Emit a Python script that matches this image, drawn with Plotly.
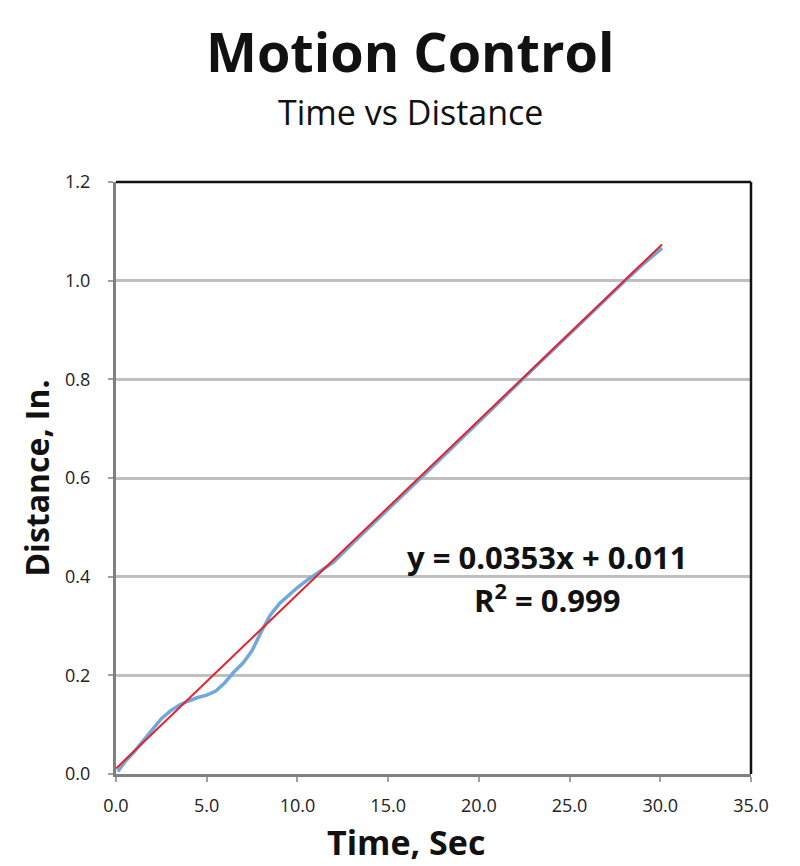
import plotly.graph_objects as go

# ---- data ----
time_sec = [0.1, 0.5, 1.0, 1.5, 2.0, 2.5, 3.0, 3.5, 4.0, 4.5, 5.0, 5.5, 6.0, 6.5,
            7.0, 7.5, 8.0, 8.5, 9.0, 9.5, 10.0, 10.5, 11.0, 11.5, 12.0, 13.0, 14.0,
            15.0, 16.0, 17.0, 18.0, 19.0, 20.0, 21.0, 22.0, 23.0, 24.0, 25.0, 26.0,
            27.0, 28.0, 29.0, 30.1]
distance_in = [0.005, 0.025, 0.045, 0.068, 0.090, 0.112, 0.128, 0.140, 0.148, 0.155,
               0.160, 0.168, 0.185, 0.207, 0.225, 0.250, 0.288, 0.322, 0.345, 0.362,
               0.378, 0.392, 0.405, 0.417, 0.430, 0.466, 0.502, 0.537, 0.572, 0.607,
               0.643, 0.679, 0.715, 0.750, 0.786, 0.821, 0.857, 0.892, 0.928, 0.963,
               0.998, 1.032, 1.066]
trend_slope = 0.0353
trend_intercept = 0.011
r_squared = 0.999

x_ticks = [0, 5, 10, 15, 20, 25, 30, 35]
y_ticks = [0.0, 0.2, 0.4, 0.6, 0.8, 1.0, 1.2]

trend_x = [0.0, max(time_sec)]
trend_y = [trend_slope * v + trend_intercept for v in trend_x]

FONT = "Open Sans"

fig = go.Figure()
fig.add_trace(go.Scatter(x=time_sec, y=distance_in, mode="lines",
                         line=dict(color="#6FA8DC", width=3.5), showlegend=False))
fig.add_trace(go.Scatter(x=trend_x, y=trend_y, mode="lines",
                         line=dict(color="#E8202A", width=2), showlegend=False))

fig.update_layout(
    width=800, height=866,
    margin=dict(l=108, r=57, t=174, b=100),
    paper_bgcolor="white", plot_bgcolor="white",
    font=dict(family=FONT, color="#222222"),
    xaxis=dict(range=[0, 35], tickvals=x_ticks,
               ticktext=[f"{v:.1f}" for v in x_ticks],
               showgrid=False, zeroline=False,
               showline=True, linecolor="#808080", linewidth=3,
               ticks="outside", ticklen=5, tickwidth=2, tickcolor="#A0A0A0",
               ticklabelstandoff=8,
               tickfont=dict(size=18, family=FONT, color="#222222")),
    yaxis=dict(range=[0, 1.2], tickvals=y_ticks,
               ticktext=[f"{v:.1f}" for v in y_ticks],
               showgrid=True, gridcolor="#BFBFBF", gridwidth=2.5,
               zeroline=False,
               showline=True, linecolor="#808080", linewidth=3,
               ticks="outside", ticklen=5, tickwidth=2, tickcolor="#A0A0A0",
               ticklabelstandoff=14,
               tickfont=dict(size=18, family=FONT, color="#222222"),
               title=dict(text="<b>Distance, In.</b>", standoff=6,
                          font=dict(size=32, family=FONT, color="#111111"))),
    shapes=[
        dict(type="line", xref="paper", yref="paper", x0=0, x1=1, y0=1, y1=1,
             line=dict(color="#111111", width=2.5)),
        dict(type="line", xref="paper", yref="paper", x0=1, x1=1, y0=0, y1=1,
             line=dict(color="#111111", width=2.5)),
    ],
    annotations=[
        dict(text="<b>Motion Control</b>", xref="paper", yref="paper",
             x=0.463, y=1.221, xanchor="center", yanchor="middle", showarrow=False,
             font=dict(size=54, family=FONT, color="#111111")),
        dict(text="Time vs Distance", xref="paper", yref="paper",
             x=0.463, y=1.118, xanchor="center", yanchor="middle", showarrow=False,
             font=dict(size=34, family=FONT, color="#111111")),
        dict(text="<b>Time, Sec</b>", xref="paper", yref="paper",
             x=0.456, y=-0.073, xanchor="center", yanchor="top", showarrow=False,
             font=dict(size=34, family=FONT, color="#111111")),
        dict(text=f"<b>y = {trend_slope}x + {trend_intercept}</b>", xref="x", yref="y",
             x=23.76, y=0.44, xanchor="center", yanchor="middle", showarrow=False,
             font=dict(size=31, family=FONT, color="#111111")),
        dict(text=f"<b>R<sup>2</sup> = {r_squared}</b>", xref="x", yref="y",
             x=23.76, y=0.355, xanchor="center", yanchor="middle", showarrow=False,
             font=dict(size=31, family=FONT, color="#111111")),
    ],
)

fig.write_html("out.html")
